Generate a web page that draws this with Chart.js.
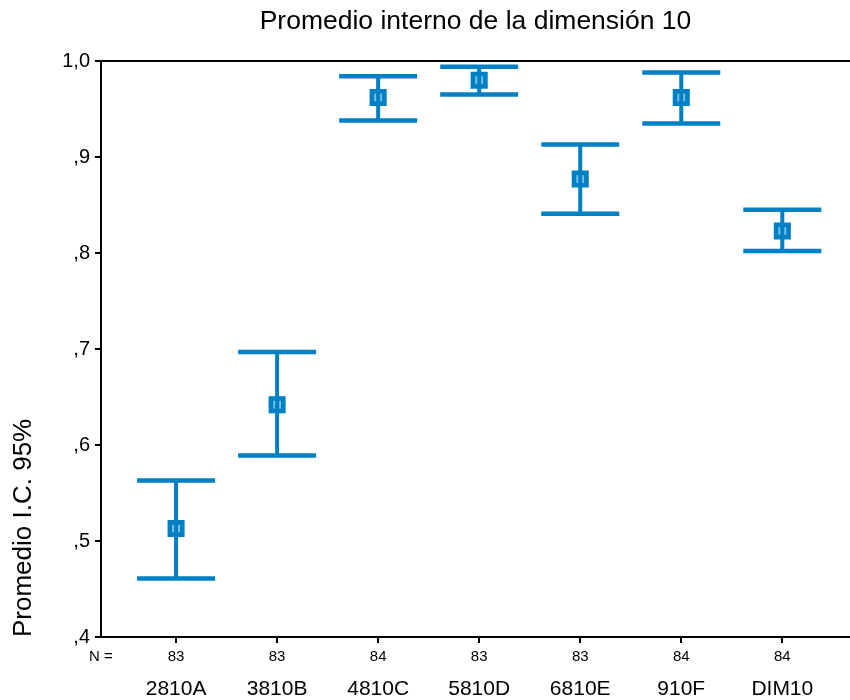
<!DOCTYPE html>
<html>
<head>
<meta charset="utf-8">
<script src="https://cdn.jsdelivr.net/npm/chart.js@4"></script>
<style>
    html, body { margin: 0; background: #fff; }
    canvas { display: block; }
</style>
</head>
<body>
<canvas id="myChart" width="850" height="700"></canvas>
<script>
const chartTitle = 'Promedio interno de la dimensión 10';
const yTitle = 'Promedio I.C. 95%';
const categories = ['2810A', '3810B', '4810C', '5810D', '6810E', '910F', 'DIM10'];
const counts = [83, 83, 84, 83, 83, 84, 84];
const means = [0.513, 0.642, 0.962, 0.980, 0.877, 0.962, 0.823];
const lower = [0.461, 0.589, 0.938, 0.965, 0.841, 0.935, 0.802];
const upper = [0.563, 0.697, 0.984, 0.994, 0.913, 0.988, 0.845];
const yTicks = [0.4, 0.5, 0.6, 0.7, 0.8, 0.9, 1.0];

const blue = '#0080c4';
const lightBlue = '#7cc0ea';
const xMin = -0.743;
const xMax = 6.67;
const font = '"Liberation Sans", Arial, sans-serif';

const catIdx = categories.map((c, i) => i);
const pts = arr => arr.map((v, i) => ({ x: i, y: v }));

// title centred over the plot area, not the canvas
const titlePlugin = {
    id: 'centeredTitle',
    afterDraw(chart) {
        const { ctx, chartArea } = chart;
        ctx.save();
        ctx.font = '25px ' + font;
        ctx.fillStyle = '#000';
        ctx.textAlign = 'center';
        ctx.textBaseline = 'middle';
        ctx.translate((chartArea.left + chartArea.right) / 2, 22);
        ctx.scale(1.06, 1);
        ctx.fillText(chartTitle, 0, 0);
        ctx.restore();
    }
};

Chart.defaults.font.family = font;
Chart.defaults.color = '#000';

new Chart(document.getElementById('myChart').getContext('2d'), {
    type: 'scatter',
    data: {
        datasets: [
            {
                type: 'line',
                data: catIdx.flatMap(i => [{ x: i, y: lower[i] }, { x: i, y: upper[i] }, { x: i, y: null }]),
                borderColor: blue,
                borderWidth: 4,
                pointRadius: 0,
                spanGaps: false,
                fill: false
            },
            {
                data: pts(means),
                pointStyle: 'rect',
                pointRadius: 5.5,
                backgroundColor: lightBlue,
                borderWidth: 0
            },
            {
                data: pts(means),
                pointStyle: 'rect',
                pointRadius: 11,
                backgroundColor: blue,
                borderColor: blue,
                borderWidth: 1.5
            },
            {
                data: pts(upper).concat(pts(lower)),
                pointStyle: 'line',
                pointRadius: 39,
                borderColor: blue,
                borderWidth: 4.5
            }
        ]
    },
    options: {
        responsive: false,
        animation: false,
        layout: { padding: 0, autoPadding: false },
        plugins: { legend: { display: false }, tooltip: { enabled: false } },
        scales: {
            x: {
                type: 'linear',
                position: 'bottom',
                weight: 0,
                min: xMin,
                max: xMax,
                afterBuildTicks: s => { s.ticks = [xMin, ...catIdx].map(v => ({ value: v })); },
                afterFit: s => { s.height = 33; },
                border: { color: '#000', width: 2 },
                grid: {
                    drawOnChartArea: false,
                    tickLength: 6,
                    lineWidth: 2,
                    color: c => (c.tick && c.tick.value === xMin) ? 'rgba(0,0,0,0)' : '#000'
                },
                ticks: {
                    autoSkip: false,
                    maxRotation: 0,
                    padding: 5,
                    font: { size: 15 },
                    callback: v => v === xMin ? 'N =' : counts[v]
                }
            },
            x2: {
                type: 'linear',
                position: 'bottom',
                weight: 1,
                min: xMin,
                max: xMax,
                afterBuildTicks: s => { s.ticks = catIdx.map(v => ({ value: v })); },
                afterFit: s => { s.height = 30; },
                border: { display: false },
                grid: { display: false, drawTicks: false },
                ticks: {
                    autoSkip: false,
                    maxRotation: 0,
                    padding: 7,
                    font: { size: 21 },
                    callback: v => categories[v]
                }
            },
            xTop: {
                type: 'linear',
                position: 'top',
                afterFit: s => { s.height = 61; },
                border: { color: '#000', width: 2 },
                grid: { display: false },
                ticks: { display: false }
            },
            y: {
                min: 0.4,
                max: 1.0,
                afterBuildTicks: s => { s.ticks = yTicks.map(v => ({ value: v })); },
                afterFit: s => { s.width = 101; },
                border: { color: '#000', width: 2 },
                grid: { drawOnChartArea: false, tickLength: 6, lineWidth: 2, color: '#000' },
                ticks: {
                    padding: 5,
                    font: { size: 20 },
                    callback: v => v.toFixed(1).replace('.', ',').replace(/^0/, '')
                },
                title: {
                    display: true,
                    text: yTitle,
                    align: 'start',
                    font: { size: 26 },
                    padding: { top: 8, bottom: 0 }
                }
            }
        }
    },
    plugins: [titlePlugin]
});
</script>
</body>
</html>
